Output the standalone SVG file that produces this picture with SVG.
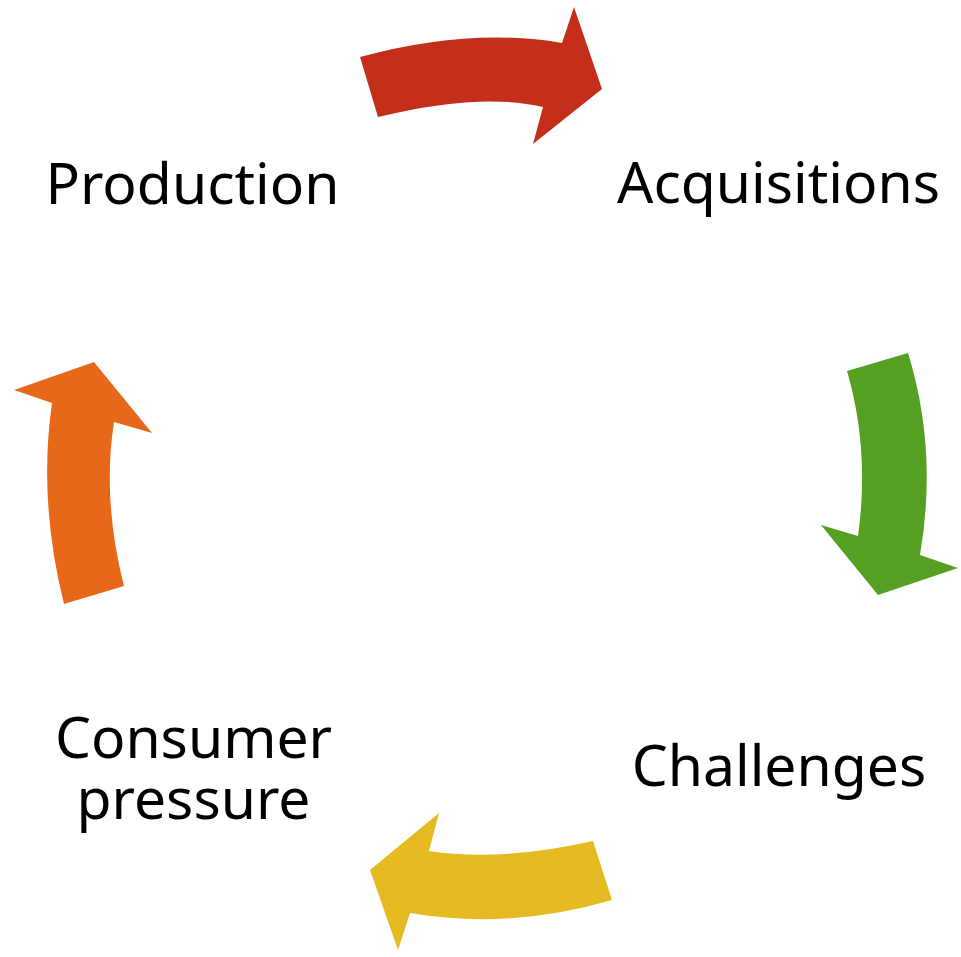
<svg xmlns="http://www.w3.org/2000/svg" width="961" height="957" viewBox="0 0 961 957">
  <style>
    .label { font-family: "Noto Sans", "Open Sans", sans-serif; font-size: 57px; fill: #000000; text-anchor: middle; }
  </style>
  <rect width="961" height="957" fill="#ffffff"/>

  <!-- Curved cycle arrows -->
  <g id="connectors">
    <path id="arrow-production-acquisitions" fill="#C32F1B"
          d="M360,57 Q470,27 562,43 L574,7 L602,89 L533,144 L543,107 Q480,92 378,117 Z"/>
    <path id="arrow-acquisitions-challenges" fill="#55A022"
          d="M847,371 L908,353 Q938,450 920,555 L958,568 L878,595 L821,525 L858,536 Q870,450 847,371 Z"/>
    <path id="arrow-challenges-consumer" fill="#E5BA20"
          d="M593,841 L612,900 Q510,930 410,913 L398,950 L370,870 L439,813 L429,851 Q500,862 593,841 Z"/>
    <path id="arrow-consumer-production" fill="#E8681A"
          d="M124,586 L64,604 Q38,500 52,403 L14,390 L94,362 L152,433 L114,422 Q102,500 124,586 Z"/>
  </g>

  <!-- Cycle stages -->
  <g id="node-production">
    <text class="label" x="192.5" y="204">Production</text>
  </g>
  <g id="node-acquisitions">
    <text class="label" x="778.5" y="203">Acquisitions</text>
  </g>
  <g id="node-challenges">
    <text class="label" x="779" y="786">Challenges</text>
  </g>
  <g id="node-consumer-pressure">
    <text class="label" x="193.5" y="758">Consumer</text>
    <text class="label" x="193.5" y="819">pressure</text>
  </g>
</svg>
